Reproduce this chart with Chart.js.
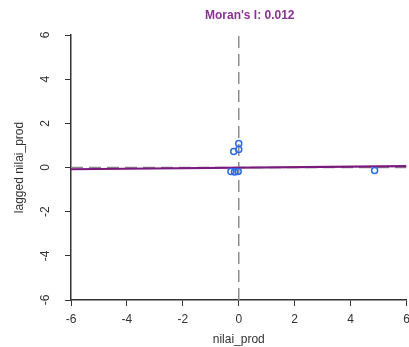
<!DOCTYPE html>
<html>
<head>
<meta charset="utf-8">
<script src="https://cdn.jsdelivr.net/npm/chart.js@4"></script>
<style>
  html, body { margin: 0; padding: 0; background: #fff; overflow: hidden; }
  #wrap { width: 409px; height: 347px; overflow: hidden; }
</style>
</head>
<body>
<!-- canvas is a few px wider than the window: the plot runs off the right edge like the original -->
<div id="wrap"><canvas id="moranChart" width="412" height="347"></canvas></div>
<script>
const nilaiProd = [0.0, 0.0, -0.18, -0.28, -0.15, -0.02, 4.86];
const laggedNilaiProd = [1.09, 0.82, 0.73, -0.18, -0.2, -0.18, -0.14];
const regressionX = [-6, 6];
const regressionY = [-0.08, 0.06];
const axisTicks = [-6, -4, -2, 0, 2, 4, 6];
const titleText = "Moran's I: 0.012";

const fontFamily = "'Liberation Sans', Arial, sans-serif";

// Title over the plot (the original figure was cropped, so it sits a bit right of centre)
const titlePlugin = {
    id: 'plotTitle',
    afterDraw(chart) {
        const ctx = chart.ctx;
        const area = chart.chartArea;
        ctx.save();
        ctx.font = "bold 12px " + fontFamily;
        ctx.fillStyle = '#8a3294';
        ctx.textAlign = 'center';
        ctx.textBaseline = 'middle';
        ctx.fillText(titleText, (area.left + area.right) / 2 + 11, 16);
        ctx.restore();
    }
};

window.onload = function() {
    const ctx = document.getElementById('moranChart').getContext('2d');

    new Chart(ctx, {
        type: 'scatter',
        data: {
            datasets: [
                {
                    label: 'points',
                    data: nilaiProd.map((x, i) => ({ x: x, y: laggedNilaiProd[i] })),
                    pointStyle: 'circle',
                    pointRadius: 3,
                    pointBorderWidth: 1.5,
                    borderColor: '#2a6ae6',
                    backgroundColor: 'rgba(0,0,0,0)',
                    order: 1
                },
                {
                    label: 'regression',
                    type: 'line',
                    data: regressionX.map((x, i) => ({ x: x, y: regressionY[i] })),
                    borderColor: '#7a1a7e',
                    borderWidth: 2.2,
                    pointRadius: 0,
                    order: 2
                },
                {
                    label: 'hline',
                    type: 'line',
                    data: [{ x: -6, y: 0 }, { x: 6, y: 0 }],
                    borderColor: '#8c8c8c',
                    borderWidth: 1.5,
                    borderDash: [12, 6],
                    pointRadius: 0,
                    order: 3
                },
                {
                    label: 'vline',
                    type: 'line',
                    data: [{ x: 0, y: -6 }, { x: 0, y: 6 }],
                    borderColor: '#8c8c8c',
                    borderWidth: 1.5,
                    borderDash: [12, 6],
                    pointRadius: 0,
                    order: 3
                }
            ]
        },
        options: {
            responsive: false,
            animation: false,
            layout: { padding: { top: 35, right: 0, left: 12, bottom: 0 } },
            plugins: {
                legend: { display: false },
                tooltip: { enabled: false }
            },
            scales: {
                x: {
                    type: 'linear',
                    min: -6,
                    max: 6,
                    afterBuildTicks: scale => { scale.ticks = axisTicks.map(v => ({ value: v })); },
                    afterFit: scale => { scale.height = 47; scale.paddingLeft = 0; scale.paddingRight = 0; },
                    grid: { display: true, drawOnChartArea: false, drawTicks: true, tickLength: 6, color: '#333', lineWidth: 1 },
                    border: { display: true, color: '#333', width: 1.5 },
                    ticks: { color: '#333', font: { family: fontFamily, size: 12 }, padding: 6, maxRotation: 0 },
                    title: { display: true, text: 'nilai_prod', color: '#333', font: { family: fontFamily, size: 12 }, padding: { top: 2, bottom: 0 } }
                },
                y: {
                    type: 'linear',
                    min: -6,
                    max: 6,
                    afterBuildTicks: scale => { scale.ticks = axisTicks.map(v => ({ value: v })); },
                    afterFit: scale => { scale.width = 59; scale.paddingTop = 0; scale.paddingBottom = 0; },
                    grid: { display: true, drawOnChartArea: false, drawTicks: true, tickLength: 6, color: '#333', lineWidth: 1 },
                    border: { display: true, color: '#333', width: 1.5 },
                    ticks: { color: '#333', font: { family: fontFamily, size: 12 }, padding: 14, minRotation: 90, maxRotation: 90, crossAlign: 'center' },
                    title: { display: true, text: 'lagged nilai_prod', color: '#333', font: { family: fontFamily, size: 12 }, padding: { top: 0, bottom: 0 } }
                }
            }
        },
        plugins: [titlePlugin]
    });
};
</script>
</body>
</html>
